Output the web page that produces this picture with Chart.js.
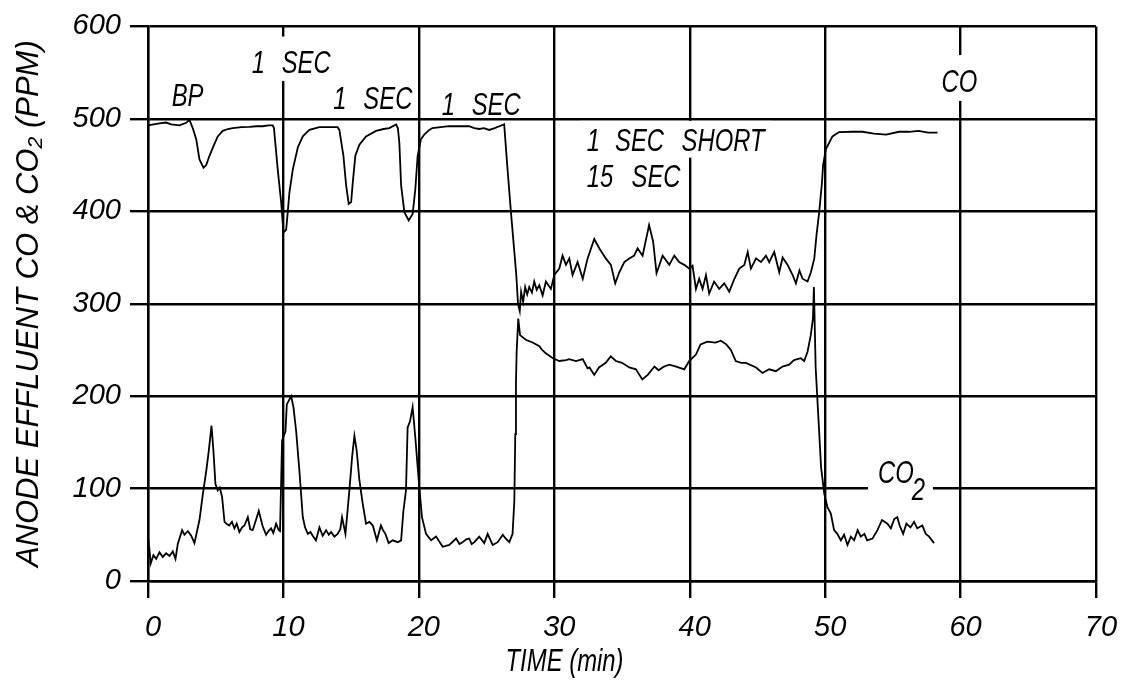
<!DOCTYPE html>
<html>
<head>
<meta charset="utf-8">
<script src="https://cdn.jsdelivr.net/npm/chart.js@4/dist/chart.umd.min.js"></script>
<style>
  html, body { margin: 0; padding: 0; background: #fff; }
  #wrap { width: 1130px; height: 683px; }
</style>
</head>
<body>
<div id="wrap"><canvas id="c" width="1130" height="683"></canvas></div>
<script>
// ---- data (time in min, concentration in ppm) ----
const coTime = [0,0.4,0.85,1.33,1.71,2.32,2.82,3.06,3.3,3.56,3.8,4.1,4.3,4.54,4.85,5.15,5.52,5.9,6.26,6.9,7.49,8.0,8.47,8.9,9.21,9.3,9.58,9.83,10.0,10.2,10.32,10.44,10.69,11.06,11.43,11.92,12.66,13.3,14.0,14.13,14.43,14.63,14.82,15.0,15.12,15.31,15.61,16.1,16.84,17.4,17.82,18.32,18.45,18.56,18.69,18.93,19.25,19.54,19.74,19.91,20.16,20.4,20.77,21.0,21.6,22.25,23.0,23.7,24.1,24.46,24.8,25.2,25.6,25.94,26.3,26.55,26.8,27.05,27.2,27.32,27.45,27.55,27.7,27.85,28.0,28.15,28.35,28.52,28.7,28.89,29.14,29.38,29.75,30.0,30.37,30.61,30.86,31.11,31.35,31.72,32.1,32.46,32.95,33.32,33.8,34.18,34.5,34.8,35.17,35.54,35.9,36.15,36.52,37.0,37.3,37.55,38.0,38.49,38.86,39.22,39.6,39.96,40.21,40.46,40.7,40.95,41.2,41.44,41.8,42.18,42.55,42.92,43.3,43.66,44.03,44.28,44.52,44.9,45.26,45.63,45.87,46.24,46.61,46.86,47.23,47.6,47.84,48.1,48.33,48.7,48.95,49.2,49.36,49.56,49.76,49.85,50.05,50.54,51.03,52.0,52.75,53.6,54.5,55.46,56.2,56.9,57.6,58.3];
const coValue = [493,494,495,496,494,493,495.7,499,490,478,456,447,450,460,471,481,487,489,490,491,491.4,492,492,493,493,490,445,410,377,380,399,420,445,469,481,488,491,491,491,488,460,428,408,410,431,460,472,481,487,489,490,494,490,474,428,399,390,397,424,460,478,483,488,490,491,492,492,492,490,489,490,488,490,492,494,445,399,356,330,300,292,313,302,318,310,318,312,324,315,320,309,324,316,331,338,352,342,349,331,345,327,349,370,360,349,342,322,334,345,349,352,360,352,385,367,333,352,342,352,345,342,338,341,316,327,316,331,311,324,316,322,313,327,338,342,356,338,349,345,352,345,356,334,350,342,331,322,336,327,324,334,349,374,399,430,450,467,481,485.7,486,486,484,483,486,486,487,485,485];

const co2Time = [0,0.1,0.2,0.4,0.6,0.85,1.09,1.34,1.59,1.83,2.03,2.2,2.52,2.69,2.94,3.19,3.43,3.8,4.05,4.3,4.49,4.69,4.83,4.98,5.15,5.3,5.47,5.65,5.8,6.0,6.2,6.38,6.55,6.75,6.95,7.12,7.37,7.55,7.73,7.95,8.18,8.45,8.72,8.9,9.09,9.25,9.46,9.65,9.75,9.9,10.15,10.25,10.57,10.74,10.94,11.18,11.43,11.6,11.8,12.0,12.16,12.4,12.66,12.9,13.15,13.35,13.52,13.76,14.0,14.2,14.33,14.58,14.87,15.07,15.24,15.41,15.61,15.85,16.1,16.35,16.6,16.9,17.2,17.35,17.53,17.77,18.07,18.44,18.69,18.86,19.05,19.17,19.35,19.54,19.74,19.99,20.23,20.53,20.9,21.27,21.76,22.25,22.75,23.0,23.23,23.5,23.72,23.9,24.1,24.46,24.83,25.08,25.45,25.82,26.2,26.4,26.68,26.92,27.05,27.12,27.17,27.22,27.34,27.47,27.9,28.4,28.9,29.1,29.4,29.9,30.37,30.86,31.1,31.6,32.1,32.46,32.6,32.95,33.3,33.8,34.17,34.55,35.0,35.54,36.03,36.5,36.9,37.4,37.7,38.1,38.5,39.0,39.6,39.96,40.46,40.8,41.3,41.9,42.3,42.7,43.04,43.4,43.8,44.15,44.9,45.37,45.87,46.36,46.85,47.34,47.7,48.2,48.45,48.7,48.94,49.1,49.17,49.3,49.5,49.7,49.94,50.17,50.42,50.66,50.9,51.16,51.4,51.65,51.9,52.14,52.4,52.63,52.9,53.1,53.5,53.86,54.2,54.6,54.85,55.1,55.33,55.5,55.76,56.0,56.3,56.57,56.8,57.18,57.43,57.68,58.04];
const co2Value = [47,35,19,28,24,31,26,30,27,32,24,40,55,50,54,49,41,66,94,119,141,168,141,105,98,101,91,64,62,60,64,57,62,53,58,60,69,56,55,65,76,60,50,54,57,52,62,55,54,152,162,191,200,188,162,119,69,58,51,53,49,44,58,49,55,50,53,48,51,56,69,51,98,134,157,141,109,84,62,64,60,44,60,55,51,41,44,42,44,76,98,166,173,188,155,109,69,51,44,48,37,39,46,40,42,45,46,40,42,48,41,51,39,42,50,46,42,51,87,159,213,248,284,266,261,258,254,250,246,241,238,239,240,238,240,230,231,223,231,236,243,238,236,231,229,218,223,232,228,232,234,232,229,238,245,256,259,258,260,256,250,238,236,236,231,225,229,227,232,234,239,241,238,248,266,284,318,231,177,123,94,80,73,55,51,44,50,39,48,44,55,48,51,44,46,55,66,62,57,67,69,60,51,62,58,64,57,60,51,48,41];

const xTicks = [0, 10, 20, 30, 40, 50, 60, 70];
const yTicks = [0, 100, 200, 300, 400, 500, 600];

const yTitle = 'ANODE EFFLUENT CO & CO\u2082 (PPM)';
const xTitle = 'TIME (min)';

// annotation words placed in data units [text, time, ppm]
const noteWords = [
  ['BP', 1.75, 513.7],
  ['1', 7.66, 549.5], ['SEC', 9.87, 549.5],
  ['1', 13.68, 510.8], ['SEC', 15.9, 510.8],
  ['1', 21.69, 504.6], ['SEC', 23.9, 504.6],
  ['1', 32.39, 465.3], ['SEC', 34.48, 465.3], ['SHORT', 39.4, 465.3],
  ['15', 32.39, 425.8], ['SEC', 35.7, 425.8],
  ['CO', 58.6, 528.7],
  ['CO', 53.9, 106.5], ['2', 56.4, 87.1]
];
// white label backgrounds in data units [t0, t1, ppm0, ppm1]
const noteMasks = [
  [7.16, 13.8, 589, 541],
  [58.18, 61.58, 569, 519.4],
  [31.9, 46.07, 497.8, 458],
  [53.16, 57.96, 135.5, 83.9]
];

const FONT = '"Liberation Sans", Arial, "DejaVu Sans", sans-serif';

function pts(ts, vs) { return ts.map((t, i) => ({x: t, y: vs[i]})); }

function drawWord(ctx, text, x, y, size, sx) {
  ctx.save();
  ctx.translate(x, y);
  ctx.scale(sx, 1);
  ctx.font = 'italic ' + size + 'px ' + FONT;
  ctx.textBaseline = 'alphabetic';
  ctx.textAlign = 'left';
  ctx.fillText(text, 0, 0);
  ctx.restore();
}

const notesPlugin = {
  id: 'notes',
  beforeDatasetsDraw(chart) {
    const ctx = chart.ctx, xs = chart.scales.x, ys = chart.scales.y;
    ctx.save();
    ctx.fillStyle = '#fff';
    noteMasks.forEach(m => {
      const x0 = xs.getPixelForValue(m[0]), x1 = xs.getPixelForValue(m[1]);
      const y0 = ys.getPixelForValue(m[2]), y1 = ys.getPixelForValue(m[3]);
      ctx.fillRect(x0, y0, x1 - x0, y1 - y0);
    });
    ctx.fillStyle = '#000';
    noteWords.forEach(w => {
      drawWord(ctx, w[0], xs.getPixelForValue(w[1]), ys.getPixelForValue(w[2]), 31, 0.77);
    });
    // x axis title
    drawWord(ctx, xTitle, xs.getPixelForValue(26.4), chart.height - 12, 31, 0.77);
    ctx.restore();
  }
};

new Chart(document.getElementById('c'), {
  type: 'line',
  data: {
    datasets: [
      { label: 'CO', data: pts(coTime, coValue), borderColor: '#000', borderWidth: 1.8, pointRadius: 0, tension: 0, fill: false },
      { label: 'CO2', data: pts(co2Time, co2Value), borderColor: '#000', borderWidth: 1.8, pointRadius: 0, tension: 0, fill: false }
    ]
  },
  options: {
    responsive: false,
    animation: false,
    devicePixelRatio: 1,
    layout: { padding: { top: 23, right: 34, left: 0, bottom: 0 } },
    plugins: { legend: { display: false }, tooltip: { enabled: false } },
    scales: {
      x: {
        type: 'linear', min: 0, max: 70,
        afterBuildTicks: s => { s.ticks = xTicks.map(v => ({value: v})); },
        afterFit: s => { s.height = 102; },
        grid: { color: '#000', lineWidth: 2.4, tickLength: 17, tickWidth: 2.4, tickColor: '#000' },
        border: { color: '#000', width: 2.4 },
        ticks: { color: '#000', font: { family: FONT, size: 29, style: 'italic' }, padding: 13, labelOffset: 5, maxRotation: 0 }
      },
      y: {
        type: 'linear', min: 0, max: 600,
        afterBuildTicks: s => { s.ticks = yTicks.map(v => ({value: v})); },
        afterFit: s => { s.width = 148; },
        grid: { color: '#000', lineWidth: 2.4, tickLength: 18, tickWidth: 2.4, tickColor: '#000' },
        border: { color: '#000', width: 2.4 },
        ticks: { color: '#000', font: { family: FONT, size: 29, style: 'italic' }, padding: 9 },
        title: { display: true, text: yTitle, color: '#000', font: { family: FONT, size: 31, style: 'italic' }, padding: { top: 11, bottom: 0 } }
      }
    }
  },
  plugins: [notesPlugin]
});
</script>
</body>
</html>
